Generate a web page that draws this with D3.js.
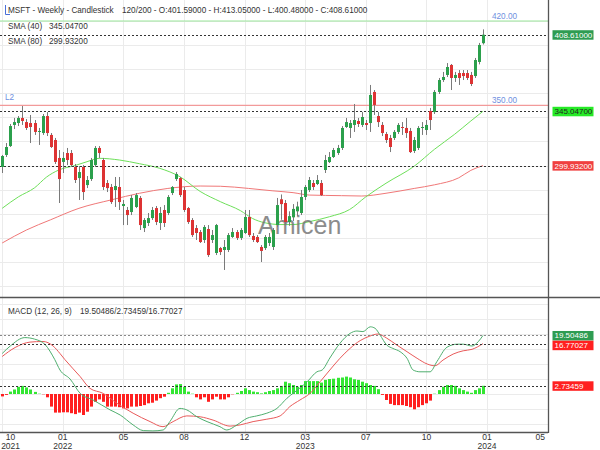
<!DOCTYPE html>
<html>
<head>
<meta charset="utf-8">
<script src="https://cdn.jsdelivr.net/npm/d3@7"></script>
<style>
body{margin:0;background:#fff;}
text{font-family:"Liberation Sans",Arial,sans-serif;}
</style>
</head>
<body>
<div id="chart"></div>
<script>
// weekly candles (index 0 = first week shown)
var opens = [298.8,308.8,316.2,333.7,335.3,339.5,336.1,335.3,335.3,327.9,
	327.0,341.1,325.4,321.2,306.3,303.0,310.4,310.4,298.8,289.6,
	298.8,283.8,288.8,300.4,314.6,304.6,285.5,282.2,279.7,282.2,
	266.4,263.1,261.4,265.6,273.1,248.1,252.3,256.4,264.7,252.3,
	263.1,260.6,277.2,288.8,289.6,279.7,264.7,254.8,248.1,244.8,
	238.2,247.3,238.2,227.4,231.5,229.9,229.9,240.7,244.8,239.9,
	244.0,257.3,241.5,240.7,232.4,231.5,235.7,232.4,250.6,272.0,
	268.9,253.0,257.0,262.0,260.6,273.9,279.7,285.5,284.7,285.5,
	296.3,302.9,307.1,310.4,314.6,332.0,331.2,333.7,337.0,333.7,
	335.3,335.3,361.1,341.1,333.7,326.2,322.9,322.9,327.9,332.0,
	331.2,328.7,312.1,314.6,331.2,329.5,345.3,344.4,361.1,371.0,
	375.2,383.5,372.7,376.8,376.8,376.8,375.2,374.3,386.0,401.59];
var highs = [308.8,318.7,334.5,339.5,341.1,349.4,338.6,342.0,337.8,331.2,
	342.8,344.4,327.0,322.9,312.9,311.2,314.6,312.9,301.3,299.6,
	300.4,291.3,306.3,316.2,316.2,306.3,288.0,284.7,290.5,290.5,
	271.4,265.6,275.5,277.2,274.7,256.4,260.6,265.6,266.4,265.6,
	267.2,275.5,283.0,294.6,290.5,282.2,265.6,256.4,250.6,246.5,
	250.6,250.6,246.5,251.5,232.4,238.2,244.0,248.1,246.5,248.1,
	263.1,263.1,244.0,242.3,234.0,242.3,244.0,248.1,273.1,276.0,
	271.4,262.0,268.0,270.0,279.7,283.8,290.5,288.0,292.1,288.0,
	308.8,311.2,314.6,317.1,332.8,339.5,337.8,351.1,339.5,344.4,
	337.8,366.9,362.7,344.4,336.1,327.9,325.4,329.5,335.3,336.1,
	339.5,331.2,323.7,332.8,336.1,337.8,347.8,362.7,372.7,377.7,
	385.1,384.3,377.7,379.3,379.3,379.3,377.7,389.3,401.8,413.05];
var lows = [293.8,307.1,315.4,330.3,332.8,333.7,329.5,318.7,325.4,317.1,
	325.4,324.5,314.6,301.3,268.9,293.8,300.4,298.8,285.5,271.4,
	271.4,281.3,287.2,298.8,306.3,279.7,278.0,268.1,265.6,263.1,
	250.6,250.6,258.9,264.7,246.5,244.8,249.8,254.8,250.6,246.5,
	249.0,258.9,275.5,287.2,273.9,261.4,251.5,240.7,238.2,235.7,
	235.7,224.1,235.7,225.7,225.7,213.3,228.2,239.9,238.2,238.2,
	243.2,240.7,236.5,235.7,219.9,229.9,233.2,229.9,249.0,255.0,
	250.6,250.0,254.0,258.0,258.9,271.4,278.0,279.7,283.8,274.7,
	293.8,302.1,306.3,308.8,312.9,331.2,322.9,327.9,332.0,332.0,
	329.5,327.9,342.0,332.0,324.5,318.7,311.2,321.2,326.2,325.4,
	322.9,310.4,310.4,312.9,325.4,325.4,329.5,342.8,359.4,369.4,
	373.5,362.7,369.4,366.9,371.0,371.0,366.0,372.7,384.0,400.48];
var closes = [307.9,315.4,332.8,336.1,339.5,337.0,331.2,332.0,327.9,328.7,
	341.1,327.0,315.4,303.0,288.8,306.3,304.6,300.4,288.0,294.6,
	278.0,288.0,304.6,314.6,310.4,282.2,281.3,269.7,283.0,269.7,
	268.1,258.9,273.1,275.5,250.6,254.8,256.4,263.1,253.1,260.6,
	252.3,273.9,282.2,293.0,275.5,263.1,253.1,242.3,244.0,236.5,
	249.0,225.7,242.3,250.6,228.2,232.4,242.3,244.8,239.9,246.5,
	257.3,242.3,238.2,236.5,229.1,240.7,240.7,246.5,267.2,268.0,
	253.1,258.0,264.0,266.0,273.9,282.2,288.0,282.2,288.0,275.5,
	304.6,307.1,312.9,314.6,331.2,336.1,335.3,337.8,334.5,340.3,
	333.7,358.6,350.3,336.1,327.0,321.2,315.4,327.9,333.7,331.2,
	327.0,311.2,321.2,331.2,332.0,333.7,337.8,361.1,371.0,373.5,
	381.8,372.7,375.2,372.7,374.3,372.7,367.7,387.6,400.1,408.61];

// moving averages, [candle index, value]
var sma40 = [[0,264.5],[4,274],[8,281.5],[11,290.5],[14,296.3],[18,300],[21,303.2],[24,306],[29,304.6],
	[34,301.5],[39,297.7],[44,290.7],[49,278.5],[54,270],[59,262.5],[62,256],[65,252.5],[69,251],
	[72,251],[76,253.4],[81,257.5],[86,263.5],[90,274],[95,285.3],[102,299.5],[107,313.5],[112,326],[116,337],[119,345.047]];
var sma80 = [[0,235.7],[6,246.5],[12,255],[19,264.5],[27,271.5],[34,277],[41,281],[49,283],[54,282.8],
	[61,281],[67,279],[72,277.5],[76,275.5],[84,275],[89,274.7],[95,277],[102,281],[107,284],[113,289.8],[116,296],[119,299.932]];

// MACD (12,26,9): line and signal [candle index, value], histogram per candle
var macdLine = [[0,13.5],[2,16],[5.6,18.8],[8,18.3],[10.6,16.5],[13,11.5],[14.3,8],[16.8,5],[19.3,0.2],[22.5,-2],
	[26.7,-5.3],[29.2,-7],[32.4,-10.3],[34.9,-12.2],[37.3,-12.3],[39.8,-12],[41.5,-9.2],[44,-4.8],[45.7,-5.3],
	[48.2,-7.6],[50.7,-9.2],[53.9,-10.9],[55.6,-12],[58.1,-10.3],[60.6,-8.1],[63,-7.3],[65.5,-6.4],[68,-4.8],
	[70.5,-1.4],[73.7,2],[75.5,4.1],[77.9,7.4],[79.2,8],[81.1,12],[83.6,16.9],[86.1,20.2],[87.8,21],[89.3,20.8],
	[91.1,22.4],[92.3,21.9],[93.5,19.7],[95.2,16.3],[96.7,15.2],[98.5,14.1],[100.2,11.9],[101.7,8],[103.4,7.4],
	[105.9,7.4],[107.6,10.8],[110.1,15.6],[112.6,16.6],[114.1,16.6],[116.3,16],[117.8,17.4],[119,19.50486]];
var signalLine = [[0,12.5],[3.2,15.5],[6.9,17.3],[10.1,17.5],[12.6,16],[14.3,13.5],[15.5,11.5],[19.3,5.8],
	[21.7,1.9],[25,0.2],[28.4,-3.1],[32.4,-6.4],[36.6,-9.2],[39.8,-10.9],[42.3,-9.2],[45.7,-7.3],[49,-7.6],
	[52.2,-8.7],[56.4,-10.7],[58.9,-10.3],[62.1,-9.2],[65.5,-8.4],[68.8,-7.3],[71.2,-4.2],[73.7,-2],[76.2,0.2],
	[78.7,4.1],[81.1,8],[83.6,11.9],[86.1,15.2],[88.6,17.8],[91,19.3],[93,20],[95.2,18.6],[97.7,16.3],
	[100.2,14.1],[102.7,11.9],[105.2,10],[107.1,9.4],[109.1,11.3],[111.6,13.3],[114.1,14.4],[116.3,14.9],[119,16.77027]];
var histogram = [-0.8,-0.3,0.8,1.5,2.4,2.7,2.2,1.5,0.7,0.1,
	-0.1,-1.1,-4.2,-6.2,-6.2,-6.1,-6.1,-6.4,-6.7,-6.2,
	-7.0,-5.9,-4.2,-2.6,-1.8,-2.6,-4.2,-4.2,-4.2,-4.4,
	-4.8,-4.8,-4.2,-4.2,-4.0,-3.7,-3.1,-2.9,-2.2,-1.4,
	-0.9,0.4,1.9,3.2,3.3,2.4,0.8,0.1,-1.1,-1.8,
	-1.1,-2.6,-1.8,-0.9,-1.8,-1.8,-1.1,-0.1,0.4,1.0,
	1.9,1.3,0.8,0.6,0.2,0.6,1.0,1.3,1.9,2.7,
	4.1,3.6,3.0,2.4,3.0,4.3,4.3,4.3,4.3,3.8,
	4.7,5.0,5.1,5.4,5.5,5.8,5.5,4.9,4.7,4.1,
	3.6,3.0,2.7,1.6,-0.3,-2.0,-3.3,-3.7,-3.7,-3.7,
	-4.0,-4.4,-5.1,-4.4,-3.7,-3.1,-2.2,0.1,1.3,2.4,
	3.0,3.0,2.7,1.9,1.3,0.8,0.4,1.3,1.9,2.73459];

var xTickIdx = [0,15,30,45,60,75,90,105,120,135];
var xTickMonth = ["10","01","05","08","12","03","07","10","01","05"];
var xTickYear = ["2021","2022","","","","2023","","","2024",""];
var priceTicks = [180,200,220,240,260,280,300,320,340,360,380,400,420,440];
var macdTicks = [-15,-10,-5,0,5,10,15,20,25,30];

var W = 600, H = 450;
var axisX = 548, mainBottom = 297.5, macdTop = 298, macdBottom = 432.5;
var font = "Liberation Sans, Arial, sans-serif";

var svg = d3.select("#chart").append("svg")
	.attr("width",W).attr("height",H)
	.style("display","block");
svg.append("rect").attr("width",W).attr("height",H).attr("fill","#fff");

var defs = svg.append("defs");
defs.append("clipPath").attr("id","clipMain").append("rect")
	.attr("x",0).attr("y",0).attr("width",axisX).attr("height",mainBottom);
defs.append("clipPath").attr("id","clipMacd").append("rect")
	.attr("x",0).attr("y",macdTop).attr("width",axisX).attr("height",macdBottom-macdTop);
defs.append("clipPath").attr("id","clipMainAx").append("rect")
	.attr("x",axisX).attr("y",0).attr("width",W-axisX).attr("height",mainBottom);
defs.append("clipPath").attr("id","clipMacdAx").append("rect")
	.attr("x",axisX).attr("y",macdTop+1).attr("width",W-axisX).attr("height",H-macdTop);

var x = d3.scaleLinear().domain([0,120]).range([2.2,487]);
var y = d3.scaleLinear().domain([200,420]).range([286,21]);
var ym = d3.scaleLinear().domain([0,30]).range([394,304]);

/* grid */
var grid = svg.append("g").attr("class","grid");
grid.append("g").attr("clip-path","url(#clipMain)").selectAll("line").data(priceTicks).enter()
	.append("line").attr("x1",0).attr("x2",axisX)
	.attr("y1",function(d){return Math.round(y(d))+0.5;}).attr("y2",function(d){return Math.round(y(d))+0.5;})
	.attr("stroke","#ebebeb");
grid.append("g").attr("clip-path","url(#clipMacd)").selectAll("line").data(macdTicks).enter()
	.append("line").attr("x1",0).attr("x2",axisX)
	.attr("y1",function(d){return Math.round(ym(d))+0.5;}).attr("y2",function(d){return Math.round(ym(d))+0.5;})
	.attr("stroke","#ebebeb");
grid.append("g").selectAll("line").data(xTickIdx.filter(function(d){return x(d)<axisX-1;})).enter()
	.append("line")
	.attr("x1",function(d){return Math.round(x(d))+0.5;}).attr("x2",function(d){return Math.round(x(d))+0.5;})
	.attr("y1",0).attr("y2",macdBottom).attr("stroke","#ebebeb");

/* main panel */
var main = svg.append("g").attr("clip-path","url(#clipMain)");

// level lines
main.append("line").attr("x1",0).attr("x2",axisX).attr("y1",y(420)).attr("y2",y(420))
	.attr("stroke","#9be89b").attr("stroke-width",1.2);
main.append("line").attr("x1",0).attr("x2",axisX).attr("y1",y(350)).attr("y2",y(350))
	.attr("stroke","#f29a9a").attr("stroke-width",1.2);

var sma = d3.line().x(function(d){return x(d[0]);}).y(function(d){return y(d[1]);}).curve(d3.curveMonotoneX);
main.append("path").attr("d",sma(sma80)).attr("fill","none").attr("stroke","#f07878").attr("stroke-width",1);
main.append("path").attr("d",sma(sma40)).attr("fill","none").attr("stroke","#6ee05a").attr("stroke-width",1);

// dashed price lines
[408.61,345.047,299.932].forEach(function(v){
	main.append("line").attr("x1",0).attr("x2",axisX)
		.attr("y1",Math.round(y(v))+0.5).attr("y2",Math.round(y(v))+0.5)
		.attr("stroke","#333").attr("stroke-dasharray","2,2");
});

// watermark
main.append("text").attr("x",258).attr("y",234).text("Amicen")
	.attr("font-size",25).attr("fill","#707070").attr("opacity",0.8);

// candles
var idx = d3.range(closes.length);
var candles = main.append("g").selectAll("g").data(idx).enter().append("g");
candles.append("line")
	.attr("x1",function(i){return Math.round(x(i))+0.5;}).attr("x2",function(i){return Math.round(x(i))+0.5;})
	.attr("y1",function(i){return y(highs[i]);}).attr("y2",function(i){return y(lows[i]);})
	.attr("stroke","#7a7a7a");
candles.append("rect")
	.attr("x",function(i){return Math.round(x(i))-1;})
	.attr("width",3)
	.attr("y",function(i){return y(Math.max(opens[i],closes[i]));})
	.attr("height",function(i){return Math.max(1,Math.abs(y(opens[i])-y(closes[i])));})
	.attr("fill",function(i){return closes[i]>=opens[i]?"#2ba04c":"#dd3333";});

// level labels
main.append("text").attr("x",492).attr("y",y(420)-2.5).text("420.00").attr("font-size",8.2).attr("fill","#6f8fe0");
main.append("text").attr("x",492).attr("y",y(350)-2.5).text("350.00").attr("font-size",8.2).attr("fill","#6f8fe0");
main.append("text").attr("x",5).attr("y",y(350)-5).text("L2").attr("font-size",8.2).attr("fill","#6f8fe0");

/* MACD panel */
var mac = svg.append("g").attr("clip-path","url(#clipMacd)");
mac.selectAll("rect").data(idx).enter().append("rect")
	.attr("x",function(i){return Math.round(x(i))-1;})
	.attr("width",3)
	.attr("y",function(i){return histogram[i]>=0?ym(histogram[i]):ym(0);})
	.attr("height",function(i){return Math.abs(ym(histogram[i])-ym(0));})
	.attr("fill",function(i){return histogram[i]>=0?"#33e633":"#ff1f1f";});
var ml = d3.line().x(function(d){return x(d[0]);}).y(function(d){return ym(d[1]);}).curve(d3.curveMonotoneX);
mac.append("path").attr("d",ml(signalLine)).attr("fill","none").attr("stroke","#e85a5a").attr("stroke-width",1);
mac.append("path").attr("d",ml(macdLine)).attr("fill","none").attr("stroke","#4fae6e").attr("stroke-width",1);
[[19.50486,"#888"],[16.77027,"#333"],[2.73459,"#333"]].forEach(function(d){
	mac.append("line").attr("x1",0).attr("x2",axisX)
		.attr("y1",Math.round(ym(d[0]))+0.5).attr("y2",Math.round(ym(d[0]))+0.5)
		.attr("stroke",d[1]).attr("stroke-dasharray","2,2");
});

/* headers */
function txt(xp,yp,s){
	return svg.append("text").attr("x",xp).attr("y",yp).text(s).attr("font-size",8.2).attr("fill","#333");
}
svg.append("path").attr("d","M5.5,5 V14.5 H10").attr("fill","none").attr("stroke","#4a6fd8").attr("stroke-width",1);
txt(8,13,"MSFT - Weekly - Candlestick");
txt(122,13,"120/200 - O:401.59000 - H:413.05000 - L:400.48000 - C:408.61000");
txt(8,28.5,"SMA (40)"); txt(49,28.5,"345.04700");
txt(8,44,"SMA (80)"); txt(49,44,"299.93200");
txt(8,314,"MACD (12, 26, 9)"); txt(80,314,"19.50486/2.73459/16.77027");

/* axes */
var axMain = svg.append("g").attr("clip-path","url(#clipMainAx)")
	.attr("transform","translate("+axisX+",0)")
	.call(d3.axisRight(y).tickValues(priceTicks).tickSize(0).tickPadding(7)
		.tickFormat(function(d){return d.toFixed(5);}));
var axMacd = svg.append("g").attr("clip-path","url(#clipMacdAx)")
	.attr("transform","translate("+axisX+",0)")
	.call(d3.axisRight(ym).tickValues(macdTicks).tickSize(0).tickPadding(7)
		.tickFormat(function(d){return d===0?"0":d.toFixed(5);}));
[axMain,axMacd].forEach(function(a){
	a.select(".domain").remove();
	a.selectAll("text").attr("font-family",font).attr("font-size",8).attr("fill","#333");
});

function valueBox(g,yp,s,fill,col){
	g.append("rect").attr("x",axisX+4.5).attr("y",yp-4.5).attr("width",41).attr("height",9.5).attr("fill",fill);
	g.append("text").attr("x",axisX+6.5).attr("y",yp+3).text(s).attr("font-size",8).attr("fill",col);
}
var boxesMain = svg.append("g").attr("clip-path","url(#clipMainAx)");
valueBox(boxesMain,y(408.61),"408.61000","#2e9c52","#fff");
valueBox(boxesMain,y(345.047),"345.04700","#26ea26","#222");
valueBox(boxesMain,y(299.932),"299.93200","#f04040","#fff");
var boxesMacd = svg.append("g").attr("clip-path","url(#clipMacdAx)");
valueBox(boxesMacd,ym(19.50486),"19.50486","#2e9c52","#fff");
valueBox(boxesMacd,ym(16.77027)+1.5,"16.77027","#ff2020","#fff");
valueBox(boxesMacd,ym(2.73459),"2.73459","#ff2020","#fff");

// time axis
var axTime = svg.append("g").attr("transform","translate(0,"+macdBottom+")")
	.call(d3.axisBottom(x).tickValues(xTickIdx).tickSize(0).tickPadding(0).tickFormat(""));
axTime.select(".domain").remove();
axTime.selectAll(".tick").each(function(d,k){
	var t = d3.select(this).select("text").attr("y",0).attr("dy",null)
		.attr("font-family",font).attr("font-size",8.5).attr("fill","#333");
	t.append("tspan").attr("x",0).attr("dy","7.5").text(xTickMonth[k]);
	if(xTickYear[k]) t.append("tspan").attr("x",0).attr("dy","8.5").text(xTickYear[k]);
	var w = this.getBBox().width/2, cx = x(d);
	var nx = Math.min(Math.max(cx,w+1),axisX-w-3);
	d3.select(this).attr("transform","translate("+nx+",0)");
});

/* frame lines */
svg.append("line").attr("x1",axisX+0.5).attr("x2",axisX+0.5).attr("y1",0).attr("y2",macdBottom+0.5)
	.attr("stroke","#555").attr("stroke-width",1.3);
svg.append("line").attr("x1",0).attr("x2",W).attr("y1",mainBottom).attr("y2",mainBottom)
	.attr("stroke","#555").attr("stroke-width",1.3);
svg.append("line").attr("x1",0).attr("x2",axisX).attr("y1",macdBottom).attr("y2",macdBottom)
	.attr("stroke","#555").attr("stroke-width",1.3);
</script>
</body>
</html>
